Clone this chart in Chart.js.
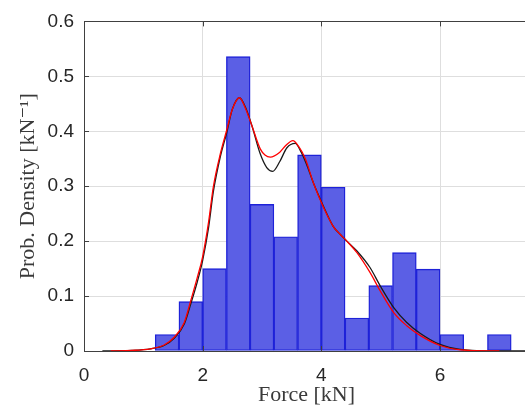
<!DOCTYPE html>
<html>
<head>
<meta charset="utf-8">
<script src="https://cdn.jsdelivr.net/npm/chart.js@4.4.1/dist/chart.umd.min.js"></script>
<style>
  html, body { margin: 0; padding: 0; background: #fff; overflow: hidden; width: 525px; height: 410px; }
  #c { position: absolute; left: 0; top: 0; }
</style>
</head>
<body>
<canvas id="c" width="540" height="410"></canvas>
<script>
// Histogram bins (centres, kN) and probability density values
const binCenters = [1.4, 1.8, 2.2, 2.6, 3.0, 3.4, 3.8, 4.2, 4.6, 5.0, 5.4, 5.8, 6.2, 6.6, 7.0];
const binDensity = [0.030, 0.090, 0.150, 0.536, 0.267, 0.208, 0.357, 0.298, 0.060, 0.119, 0.179, 0.149, 0.030, 0, 0.030];

// Black density curve
const blackX = [0.31, 0.8, 1.12, 1.35, 1.52, 1.69, 1.80, 1.91, 2.0, 2.1, 2.18, 2.3, 2.4, 2.5, 2.62, 2.72, 2.83, 2.97, 3.08, 3.18, 3.3, 3.42, 3.56, 3.66, 3.75, 3.87, 4.03, 4.2, 4.32, 4.43, 4.6, 4.82, 4.99, 5.22, 5.44, 5.67, 6.0, 6.34, 7.0, 7.6];
const blackY = [0, 0.001, 0.004, 0.010, 0.023, 0.049, 0.086, 0.126, 0.165, 0.225, 0.290, 0.355, 0.395, 0.440, 0.461, 0.444, 0.410, 0.359, 0.334, 0.327, 0.345, 0.370, 0.378, 0.362, 0.340, 0.305, 0.265, 0.227, 0.212, 0.200, 0.182, 0.152, 0.119, 0.079, 0.052, 0.032, 0.012, 0.003, 0, 0];

// Red density curve
const redX = [0.45, 0.8, 1.12, 1.35, 1.52, 1.69, 1.80, 1.91, 2.0, 2.1, 2.18, 2.3, 2.4, 2.5, 2.62, 2.72, 2.83, 2.97, 3.05, 3.14, 3.3, 3.4, 3.52, 3.62, 3.73, 3.87, 4.03, 4.2, 4.32, 4.43, 4.6, 4.82, 4.99, 5.22, 5.44, 5.67, 6.0, 6.34, 7.0];
const redY = [0, 0.001, 0.004, 0.011, 0.025, 0.052, 0.092, 0.134, 0.172, 0.235, 0.299, 0.360, 0.400, 0.440, 0.461, 0.442, 0.410, 0.368, 0.357, 0.353, 0.362, 0.374, 0.383, 0.372, 0.350, 0.305, 0.263, 0.227, 0.212, 0.200, 0.179, 0.143, 0.110, 0.070, 0.046, 0.028, 0.010, 0.002, 0];

const xTickValues = [0, 2, 4, 6];
const yTickValues = [0, 0.1, 0.2, 0.3, 0.4, 0.5, 0.6];

const toPts = (xs, ys) => xs.map((x, i) => ({ x: x, y: ys[i] }));

const frameColor = '#404040';
const innerTicks = {
  id: 'innerTicks',
  afterDraw(chart) {
    const { ctx, chartArea: a, scales: { x, y } } = chart;
    ctx.save();
    ctx.strokeStyle = frameColor;
    ctx.lineWidth = 1;
    ctx.beginPath();
    // top border
    ctx.moveTo(a.left, Math.round(a.top) + 0.5);
    ctx.lineTo(a.right, Math.round(a.top) + 0.5);
    const L = 5;
    xTickValues.forEach(v => {
      const px = Math.round(x.getPixelForValue(v)) + 0.5;
      ctx.moveTo(px, a.bottom); ctx.lineTo(px, a.bottom - L);
      ctx.moveTo(px, a.top); ctx.lineTo(px, a.top + L);
    });
    yTickValues.forEach(v => {
      const py = Math.round(y.getPixelForValue(v)) + 0.5;
      ctx.moveTo(a.left, py); ctx.lineTo(a.left + L, py);
    });
    ctx.stroke();
    ctx.restore();
  }
};

new Chart(document.getElementById('c'), {
  type: 'bar',
  data: {
    datasets: [
      {
        type: 'line',
        data: toPts(redX, redY),
        borderColor: '#ff0000',
        borderWidth: 1.3,
        pointRadius: 0,
        cubicInterpolationMode: 'monotone',
        order: 1
      },
      {
        type: 'line',
        data: toPts(blackX, blackY),
        borderColor: '#1a1a1a',
        borderWidth: 1.3,
        pointRadius: 0,
        cubicInterpolationMode: 'monotone',
        order: 2
      },
      {
        type: 'bar',
        data: toPts(binCenters, binDensity),
        backgroundColor: '#5b5fe5',
        borderColor: '#1e22d8',
        borderWidth: 1.4,
        borderSkipped: false,
        barPercentage: 1,
        categoryPercentage: 1,
        order: 3
      }
    ]
  },
  options: {
    responsive: false,
    animation: false,
    layout: { padding: { left: 0, right: 11, top: 18, bottom: 0 } },
    plugins: { legend: { display: false }, tooltip: { enabled: false } },
    scales: {
      x: {
        type: 'linear',
        min: 0,
        max: 7.5,
        offset: false,
        afterBuildTicks: s => { s.ticks = xTickValues.map(v => ({ value: v })); },
        afterFit: s => { s.height = 59; },
        ticks: {
          padding: 13,
          color: '#262626',
          font: { family: '"Liberation Sans", Arial, sans-serif', size: 19 },
          callback: v => String(v)
        },
        grid: { color: '#dedede', lineWidth: 1, drawTicks: false, offset: false },
        border: { color: frameColor, width: 1 },
        title: {
          display: true,
          text: 'Force [kN]',
          color: '#3a3a3a',
          font: { family: '"Liberation Serif", "DejaVu Serif", serif', size: 22 },
          padding: { top: 0, bottom: 2 }
        }
      },
      y: {
        type: 'linear',
        min: 0,
        max: 0.6,
        afterBuildTicks: s => { s.ticks = yTickValues.map(v => ({ value: v })); },
        afterFit: s => { s.width = 84; },
        ticks: {
          padding: 10,
          color: '#262626',
          font: { family: '"Liberation Sans", Arial, sans-serif', size: 19 },
          callback: v => (v === 0 ? '0' : v.toFixed(1))
        },
        grid: { color: '#dedede', lineWidth: 1, drawTicks: false },
        border: { color: frameColor, width: 1 },
        title: {
          display: true,
          text: 'Prob. Density [kN⁻¹]',
          color: '#3a3a3a',
          font: { family: '"Liberation Serif", "DejaVu Serif", serif', size: 22 },
          padding: { top: 15, bottom: 0 }
        }
      }
    }
  },
  plugins: [innerTicks]
});
</script>
</body>
</html>
